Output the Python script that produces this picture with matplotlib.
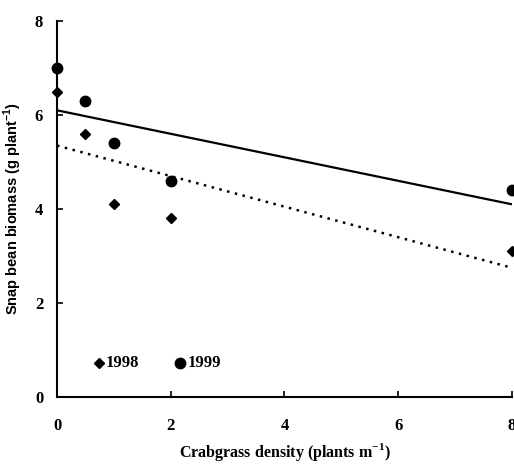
import numpy as np
import matplotlib.pyplot as plt

plt.rcParams['font.family'] = ['Liberation Serif', 'DejaVu Serif']
plt.rcParams['font.weight'] = 'bold'
plt.rcParams['mathtext.fontset'] = 'custom'
plt.rcParams['mathtext.rm'] = 'Liberation Serif:bold'
plt.rcParams['mathtext.bf'] = 'Liberation Serif:bold'
plt.rcParams['mathtext.sf'] = 'Liberation Sans:bold'

# crabgrass density (plants m-1)
density = [0, 0.5, 1, 2, 8]
biomass_1998 = [6.5, 5.6, 4.1, 3.8, 3.1]
biomass_1999 = [7.0, 6.3, 5.4, 4.6, 4.4]

# regression lines (intercept, slope)
fit_1999 = (6.1, -0.25)
fit_1998 = (5.35, -0.325)

fig = plt.figure(figsize=(5.14, 4.65), dpi=100)
ax = fig.add_axes([0.111, 0.1462, 0.885, 0.8086])

xs = np.array([0, 8])
ax.plot(xs, fit_1999[0] + fit_1999[1] * xs, color='black', lw=1.6, solid_capstyle='butt')
ax.plot(xs, fit_1998[0] + fit_1998[1] * xs, color='black', lw=1.8, ls=(0, (1, 2.2)))

ax.plot(density, biomass_1998, 'D', color='black', ms=5.2, clip_on=False)
ax.plot(density, biomass_1999, 'o', color='black', ms=7.5, clip_on=False)

# legend drawn inside the plot
ax.plot([0.73], [0.72], 'D', color='black', ms=5.2)
ax.text(0.86, 0.72, '1998', va='center', ha='left', fontsize=12, fontweight='bold')
ax.plot([2.16], [0.72], 'o', color='black', ms=7.5)
ax.text(2.3, 0.72, '1999', va='center', ha='left', fontsize=12, fontweight='bold')

ax.set_xlim(0, 8)
ax.set_ylim(0, 8)
ax.set_xticks([0, 2, 4, 6, 8])
ax.set_yticks([0, 2, 4, 6, 8])
ax.spines['top'].set_visible(False)
ax.spines['right'].set_visible(False)
for s in ['left', 'bottom']:
    ax.spines[s].set_linewidth(1.5)
ax.tick_params(axis='both', direction='in', length=4, width=1.2, labelsize=12)
ax.tick_params(axis='x', pad=15)
ax.tick_params(axis='y', pad=10)

ax.set_xlabel('Crabgrass density (plants m$^{-1}$)', fontsize=11.5, fontweight='bold', labelpad=5)
ax.set_ylabel('Snap bean biomass (g plant$^{\\mathsf{-1}}$)', fontsize=10.5, fontweight='bold',
              family=['Liberation Sans', 'DejaVu Sans'], labelpad=8)

fig.savefig('out.png', dpi=100)
